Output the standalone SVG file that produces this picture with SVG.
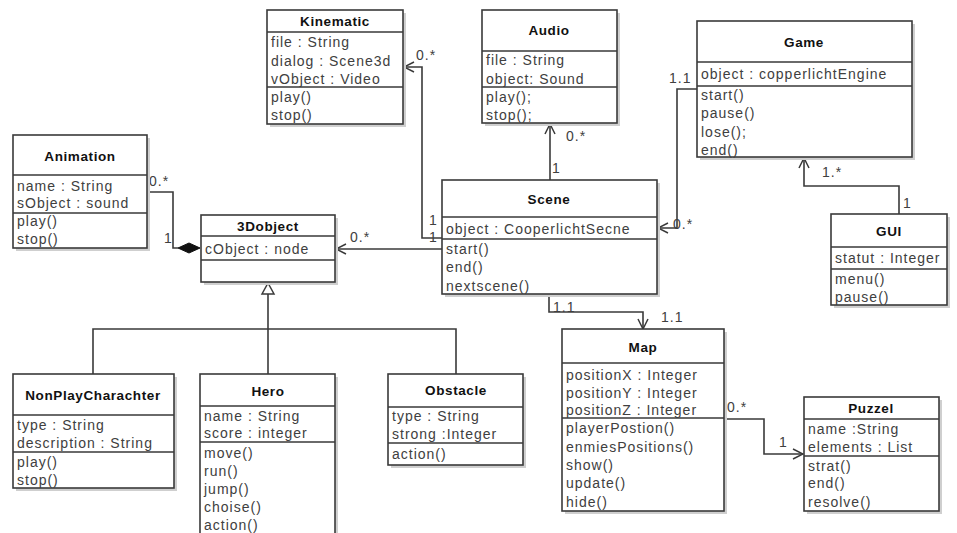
<svg xmlns="http://www.w3.org/2000/svg" width="957" height="533" viewBox="0 0 957 533">
  <style>
    .bg { fill: #ffffff; }
    .sh { fill: #cfcfcf; }
    .box { fill: #ffffff; stroke: #3a3a3a; stroke-width: 1.6; }
    .sep { stroke: #3a3a3a; stroke-width: 1.4; fill: none; }
    .name { font-family: "Liberation Sans", Arial, sans-serif; font-size: 13.5px; font-weight: bold; fill: #111111; text-anchor: middle; letter-spacing: 0.6px; }
    .t { font-family: "Liberation Sans", Arial, sans-serif; font-size: 14px; fill: #404040; letter-spacing: 1px; }
    .m { font-family: "Liberation Sans", Arial, sans-serif; font-size: 14px; fill: #404040; letter-spacing: 1px; }
    .edge { fill: none; stroke: #3a3a3a; stroke-width: 1.6; }
  </style>
  <defs>
    <marker id="open" viewBox="0 0 12 12" refX="11" refY="6" markerWidth="12" markerHeight="12" markerUnits="userSpaceOnUse" orient="auto">
      <path d="M1,1 L11,6 L1,11" fill="none" stroke="#3a3a3a" stroke-width="1.5"/>
    </marker>
  </defs>
  <rect class="bg" x="0" y="0" width="957" height="533"/>

  <!-- associations, composition and generalization -->
  <g id="connectors">
    <!-- Animation / 3Dobject composition -->
    <path class="edge" d="M147,192 H173 V248 H178"/>
    <polygon points="178,248 189,243 200,248 189,253" fill="#111111" stroke="#111111" stroke-width="1"/>
    <text class="m" x="149" y="186">0.*</text>
    <text class="m" x="164" y="243">1</text>

    <!-- Scene -> 3Dobject -->
    <path class="edge" d="M442,249 H336" marker-end="url(#open)"/>
    <text class="m" x="350" y="242">0.*</text>

    <!-- Scene -> Kinematic -->
    <path class="edge" d="M442,238 H422 V67 H404" marker-end="url(#open)"/>
    <text class="m" x="416" y="60">0.*</text>
    <text class="m" x="429" y="225">1</text>
    <text class="m" x="429" y="242">1</text>

    <!-- Scene -> Audio -->
    <path class="edge" d="M550,180 V124" marker-end="url(#open)"/>
    <text class="m" x="566" y="141">0.*</text>
    <text class="m" x="552" y="173">1</text>

    <!-- Game -> Scene -->
    <path class="edge" d="M697,89 H677 V228 H658" marker-end="url(#open)"/>
    <text class="m" x="669" y="83">1.1</text>
    <text class="m" x="673" y="229">0.*</text>

    <!-- GUI -> Game -->
    <path class="edge" d="M899,214 V186 H804 V158" marker-end="url(#open)"/>
    <text class="m" x="822" y="177">1.*</text>
    <text class="m" x="903" y="208">1</text>

    <!-- Scene -> Map -->
    <path class="edge" d="M549,294 V312 H643 V329" marker-end="url(#open)"/>
    <text class="m" x="553" y="312">1.1</text>
    <text class="m" x="661" y="322">1.1</text>

    <!-- Map -> Puzzel -->
    <path class="edge" d="M724,419 H764 V454 H803" marker-end="url(#open)"/>
    <text class="m" x="727" y="412">0.*</text>
    <text class="m" x="779" y="447">1</text>

    <!-- generalization to 3Dobject -->
    <polygon points="268,283 262,294 274,294" fill="#ffffff" stroke="#3a3a3a" stroke-width="1.5"/>
    <path class="edge" d="M268,294 V374"/>
    <path class="edge" d="M93,374 V329 H456 V374"/>
  </g>

  <g id="Kinematic">
    <rect class="sh" x="270" y="13" width="136" height="114"/>
    <rect class="box" x="267" y="10" width="136" height="114"/>
    <path class="sep" d="M267,32 H403 M267,87 H403"/>
    <text class="name" x="335" y="26">Kinematic</text>
    <text class="t" x="271" y="47">file : String</text>
    <text class="t" x="271" y="66">dialog : Scene3d</text>
    <text class="t" x="271" y="84">vObject : Video</text>
    <text class="t" x="271" y="102">play()</text>
    <text class="t" x="271" y="120">stop()</text>
  </g>

  <g id="Audio">
    <rect class="sh" x="485" y="13" width="135" height="113"/>
    <rect class="box" x="482" y="10" width="135" height="113"/>
    <path class="sep" d="M482,51 H617 M482,87 H617"/>
    <text class="name" x="549" y="35">Audio</text>
    <text class="t" x="486" y="65">file : String</text>
    <text class="t" x="486" y="84">object: Sound</text>
    <text class="t" x="486" y="102">play();</text>
    <text class="t" x="486" y="120">stop();</text>
  </g>

  <g id="Game">
    <rect class="sh" x="700" y="24" width="215" height="136"/>
    <rect class="box" x="697" y="21" width="215" height="136"/>
    <path class="sep" d="M697,62 H912 M697,86 H912"/>
    <text class="name" x="804" y="47">Game</text>
    <text class="t" x="701" y="79">object : copperlichtEngine</text>
    <text class="t" x="701" y="100">start()</text>
    <text class="t" x="701" y="118">pause()</text>
    <text class="t" x="701" y="137">lose();</text>
    <text class="t" x="701" y="155">end()</text>
  </g>

  <g id="GUI">
    <rect class="sh" x="834" y="217" width="116" height="91"/>
    <rect class="box" x="831" y="214" width="116" height="91"/>
    <path class="sep" d="M831,247 H947 M831,269 H947"/>
    <text class="name" x="889" y="236">GUI</text>
    <text class="t" x="835" y="263">statut : Integer</text>
    <text class="t" x="835" y="284">menu()</text>
    <text class="t" x="835" y="302">pause()</text>
  </g>

  <g id="Scene">
    <rect class="sh" x="445" y="183" width="215" height="114"/>
    <rect class="box" x="442" y="180" width="215" height="114"/>
    <path class="sep" d="M442,217 H657 M442,239 H657"/>
    <text class="name" x="549" y="204">Scene</text>
    <text class="t" x="446" y="234">object : CooperlichtSecne</text>
    <text class="t" x="446" y="254">start()</text>
    <text class="t" x="446" y="272">end()</text>
    <text class="t" x="446" y="291">nextscene()</text>
  </g>

  <g id="Animation">
    <rect class="sh" x="16" y="138" width="134" height="113"/>
    <rect class="box" x="13" y="135" width="134" height="113"/>
    <path class="sep" d="M13,175 H147 M13,213 H147"/>
    <text class="name" x="80" y="161">Animation</text>
    <text class="t" x="17" y="191">name : String</text>
    <text class="t" x="17" y="208">sObject : sound</text>
    <text class="t" x="17" y="226">play()</text>
    <text class="t" x="17" y="244">stop()</text>
  </g>

  <g id="ThreeDobject">
    <rect class="sh" x="204" y="218" width="134" height="67"/>
    <rect class="box" x="201" y="215" width="134" height="67"/>
    <path class="sep" d="M201,236 H335 M201,260 H335"/>
    <text class="name" x="268" y="231">3Dobject</text>
    <text class="t" x="205" y="254">cObject : node</text>
  </g>

  <g id="NonPlayCharachter">
    <rect class="sh" x="16" y="377" width="161" height="114"/>
    <rect class="box" x="13" y="374" width="161" height="114"/>
    <path class="sep" d="M13,415 H174 M13,452 H174"/>
    <text class="name" x="93" y="400">NonPlayCharachter</text>
    <text class="t" x="17" y="430">type : String</text>
    <text class="t" x="17" y="448">description : String</text>
    <text class="t" x="17" y="467">play()</text>
    <text class="t" x="17" y="485">stop()</text>
  </g>

  <g id="Hero">
    <rect class="sh" x="203" y="377" width="135" height="170"/>
    <rect class="box" x="200" y="374" width="135" height="170"/>
    <path class="sep" d="M200,406 H335 M200,442 H335"/>
    <text class="name" x="268" y="396">Hero</text>
    <text class="t" x="204" y="421">name : String</text>
    <text class="t" x="204" y="438">score : integer</text>
    <text class="t" x="204" y="458">move()</text>
    <text class="t" x="204" y="476">run()</text>
    <text class="t" x="204" y="494">jump()</text>
    <text class="t" x="204" y="512">choise()</text>
    <text class="t" x="204" y="530">action()</text>
  </g>

  <g id="Obstacle">
    <rect class="sh" x="391" y="377" width="135" height="91"/>
    <rect class="box" x="388" y="374" width="135" height="91"/>
    <path class="sep" d="M388,407 H523 M388,443 H523"/>
    <text class="name" x="456" y="395">Obstacle</text>
    <text class="t" x="392" y="421">type : String</text>
    <text class="t" x="392" y="439">strong :Integer</text>
    <text class="t" x="392" y="459">action()</text>
  </g>

  <g id="Map">
    <rect class="sh" x="565" y="332" width="162" height="182"/>
    <rect class="box" x="562" y="329" width="162" height="182"/>
    <path class="sep" d="M562,363 H724 M562,418 H724"/>
    <text class="name" x="643" y="352">Map</text>
    <text class="t" x="566" y="380">positionX : Integer</text>
    <text class="t" x="566" y="398">positionY : Integer</text>
    <text class="t" x="566" y="415">positionZ : Integer</text>
    <text class="t" x="566" y="433">playerPostion()</text>
    <text class="t" x="566" y="452">enmiesPositions()</text>
    <text class="t" x="566" y="470">show()</text>
    <text class="t" x="566" y="488">update()</text>
    <text class="t" x="566" y="507">hide()</text>
  </g>

  <g id="Puzzel">
    <rect class="sh" x="807" y="400" width="135" height="114"/>
    <rect class="box" x="804" y="397" width="135" height="114"/>
    <path class="sep" d="M804,419 H939 M804,456 H939"/>
    <text class="name" x="871" y="413">Puzzel</text>
    <text class="t" x="808" y="434">name :String</text>
    <text class="t" x="808" y="452">elements : List</text>
    <text class="t" x="808" y="471">strat()</text>
    <text class="t" x="808" y="488">end()</text>
    <text class="t" x="808" y="507">resolve()</text>
  </g>
</svg>
